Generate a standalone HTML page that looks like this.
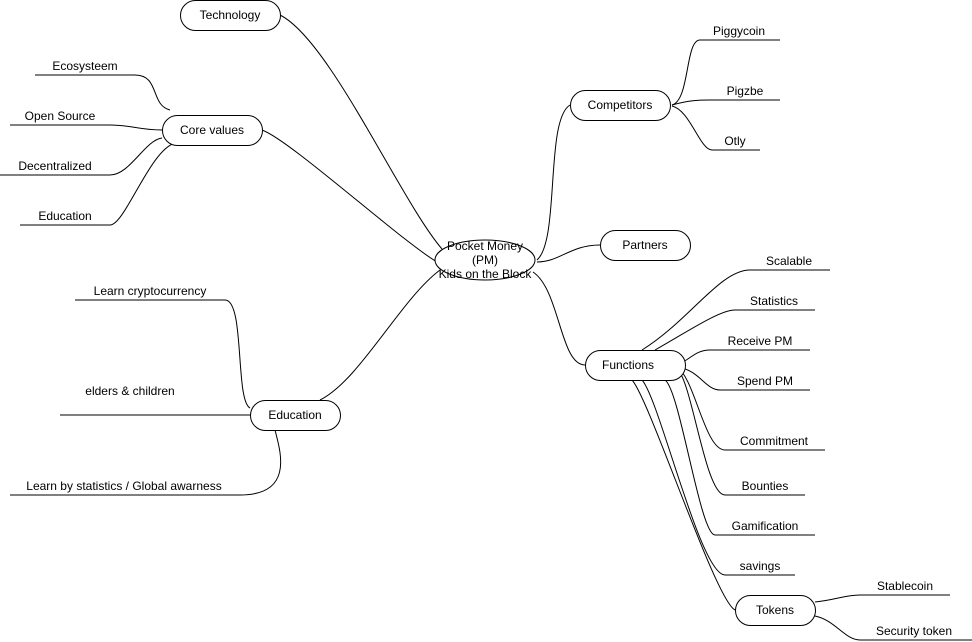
<!DOCTYPE html>
<html><head><meta charset="utf-8"><style>
html,body{margin:0;padding:0;background:#fff}
svg{display:block}
text{font-family:"Liberation Sans",Arial,sans-serif;font-size:12px;fill:#000}
</style></head><body>
<svg width="972" height="642" viewBox="0 0 972 642" xmlns="http://www.w3.org/2000/svg">
<g fill="none" stroke="#000" stroke-width="1">
<!-- central branches -->
<path d="M280,15 C330,40 400,200 442,249"/>
<path d="M262,130 C290,140 400,240 437,262"/>
<path d="M320,400 C360,380 400,300 440,270"/>
<path d="M537,260 C560,240 545,120 570,105"/>
<path d="M537,262 C560,262 570,245 600,245"/>
<path d="M533,272 C560,290 560,365 585,365"/>
<!-- core values leaves -->
<path d="M35,75 H135 C160,75 150,105 170,110"/>
<path d="M10,125 H110 C130,125 140,130 162,130"/>
<path d="M0,175 H110 C130,175 145,140 162,138"/>
<path d="M20,225 H110 C125,225 150,150 175,143"/>
<!-- education leaves -->
<path d="M75,300 H225 C245,300 235,400 250,408"/>
<path d="M60,415 H260"/>
<path d="M10,495 H240 C295,495 280,450 275,430"/>
<!-- competitors leaves -->
<path d="M672,105 C690,100 685,40 700,40 H780"/>
<path d="M672,105 C690,100 700,100 710,100 H780"/>
<path d="M672,106 C690,110 700,150 712,150 H760"/>
<!-- functions leaves -->
<path d="M642,350 C690,320 720,270 750,270 H830"/>
<path d="M655,350 C690,330 720,310 735,310 H815"/>
<path d="M677,365 C690,360 695,350 710,350 H810"/>
<path d="M677,367 C700,370 705,390 720,390 H810"/>
<path d="M678,368 C695,380 705,450 725,450 H825"/>
<path d="M677,369 C692,380 705,495 725,495 H805"/>
<path d="M665,380 C680,390 700,535 715,535 H815"/>
<path d="M642,380 C660,400 700,575 725,575 H795"/>
<path d="M632,380 C650,400 715,600 735,610"/>
<!-- tokens leaves -->
<path d="M815,602 C835,600 845,595 860,595 H950"/>
<path d="M815,616 C835,620 845,640 860,640 H972"/>
</g>
<g fill="#fff" stroke="#000" stroke-width="1">
<rect x="180.5" y="0.5" width="100" height="30" rx="15"/>
<rect x="162.5" y="115.5" width="100" height="30" rx="15"/>
<ellipse cx="485" cy="260" rx="50" ry="20"/>
<rect x="570.5" y="90.5" width="100" height="30" rx="15"/>
<rect x="600.5" y="230.5" width="90" height="30" rx="15"/>
<rect x="585.5" y="350.5" width="100" height="30" rx="15"/>
<rect x="250.5" y="400.5" width="90" height="30" rx="15"/>
<rect x="735.5" y="595.5" width="80" height="30" rx="15"/>
</g>
<g text-anchor="middle">
<text x="230" y="19">Technology</text>
<text x="212" y="134">Core values</text>
<text x="485" y="250">Pocket Money</text>
<text x="485" y="264">(PM)</text>
<text x="485" y="278">Kids on the Block</text>
<text x="620" y="109">Competitors</text>
<text x="645" y="249">Partners</text>
<text x="628" y="369">Functions</text>
<text x="295" y="419">Education</text>
<text x="775" y="614">Tokens</text>
<text x="85" y="70">Ecosysteem</text>
<text x="60" y="120">Open Source</text>
<text x="55" y="170">Decentralized</text>
<text x="65" y="220">Education</text>
<text x="150" y="295">Learn cryptocurrency</text>
<text x="130" y="395">elders &amp; children</text>
<text x="124" y="490">Learn by statistics / Global awarness</text>
<text x="739" y="35">Piggycoin</text>
<text x="745" y="95">Pigzbe</text>
<text x="735" y="145">Otly</text>
<text x="789" y="265">Scalable</text>
<text x="774" y="305">Statistics</text>
<text x="760" y="345">Receive PM</text>
<text x="765" y="385">Spend PM</text>
<text x="774" y="445">Commitment</text>
<text x="765" y="490">Bounties</text>
<text x="765" y="530">Gamification</text>
<text x="760" y="570">savings</text>
<text x="905" y="590">Stablecoin</text>
<text x="914" y="635">Security token</text>
</g>
</svg>
</body></html>
